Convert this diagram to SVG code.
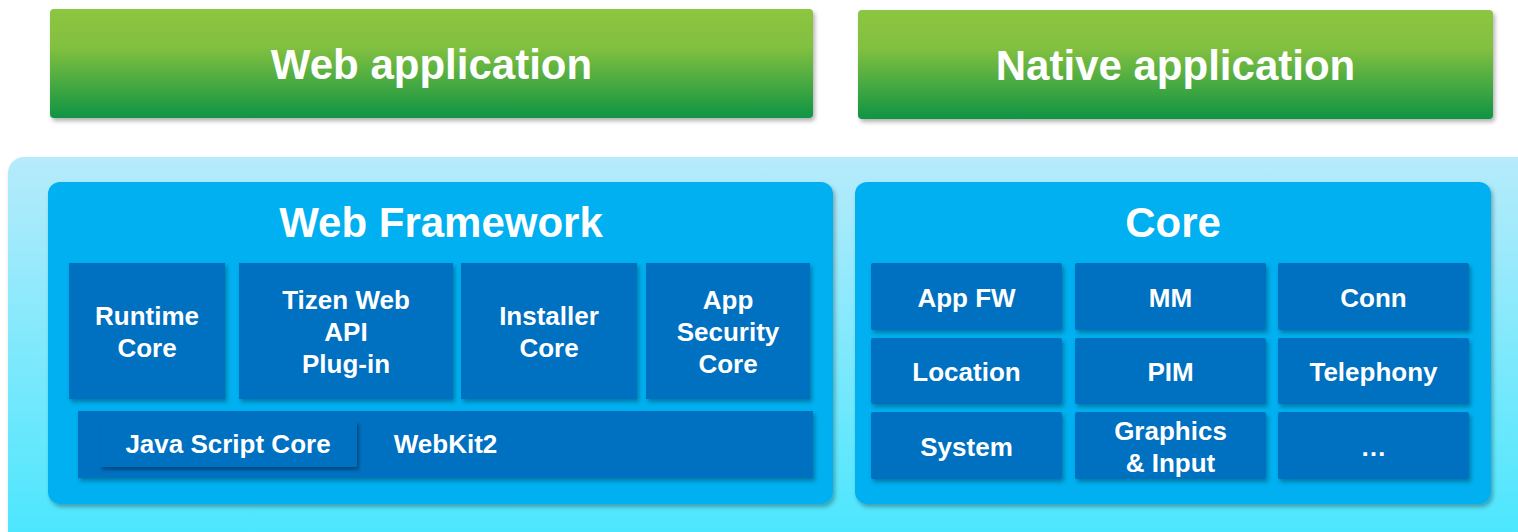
<svg xmlns="http://www.w3.org/2000/svg" width="1518" height="532" viewBox="0 0 1518 532">
  <defs>
    <linearGradient id="green" x1="0" y1="0" x2="0" y2="1">
      <stop offset="0" stop-color="#8dc63f"/>
      <stop offset="0.35" stop-color="#82c040"/>
      <stop offset="1" stop-color="#0f9444"/>
    </linearGradient>
    <linearGradient id="sky" x1="0" y1="0" x2="0" y2="1">
      <stop offset="0" stop-color="#b6ebfb"/>
      <stop offset="1" stop-color="#45e6fe"/>
    </linearGradient>
    <filter id="sh" x="-10%" y="-10%" width="130%" height="140%">
      <feDropShadow dx="2" dy="3" stdDeviation="2" flood-color="#000" flood-opacity="0.3"/>
    </filter>
    <filter id="shDark" x="-10%" y="-20%" width="130%" height="160%">
      <feDropShadow dx="2" dy="3" stdDeviation="1.5" flood-color="#00305a" flood-opacity="0.6"/>
    </filter>
  </defs>
  <style>
    .app { fill: url(#green); filter: url(#sh); }
    .frame { fill: #00b0f0; filter: url(#sh); }
    .tile { fill: #0070c0; filter: url(#sh); }
    .big { font-family: "Liberation Sans", Arial, sans-serif; font-weight: bold; font-size: 42px; fill: #ffffff; text-anchor: middle; }
    .lbl { font-family: "Liberation Sans", Arial, sans-serif; font-weight: bold; font-size: 26px; fill: #ffffff; text-anchor: middle; }
  </style>

  <rect width="1518" height="532" fill="#ffffff"/>

  <g id="web-application">
    <rect class="app" x="50" y="9" width="763" height="109" rx="4"/>
    <text class="big" x="431.5" y="79">Web application</text>
  </g>
  <g id="native-application">
    <rect class="app" x="858" y="10" width="635" height="109" rx="4"/>
    <text class="big" x="1175.5" y="80">Native application</text>
  </g>

  <g id="platform">
    <rect x="8" y="157" width="1540" height="400" rx="16" fill="url(#sky)" filter="url(#sh)"/>
  </g>

  <g id="web-framework">
    <rect class="frame" x="48" y="182" width="785" height="322" rx="12"/>
    <text class="big" x="441" y="237">Web Framework</text>
  </g>
  <g id="runtime-core">
    <rect class="tile" x="69" y="263" width="156" height="136"/>
    <text class="lbl" x="147" y="325">Runtime</text>
    <text class="lbl" x="147" y="357">Core</text>
  </g>
  <g id="tizen-web-api">
    <rect class="tile" x="239" y="263" width="214" height="136"/>
    <text class="lbl" x="346" y="309">Tizen Web</text>
    <text class="lbl" x="346" y="341">API</text>
    <text class="lbl" x="346" y="373">Plug-in</text>
  </g>
  <g id="installer-core">
    <rect class="tile" x="461" y="263" width="176" height="136"/>
    <text class="lbl" x="549" y="325">Installer</text>
    <text class="lbl" x="549" y="357">Core</text>
  </g>
  <g id="app-security-core">
    <rect class="tile" x="646" y="263" width="164" height="136"/>
    <text class="lbl" x="728" y="309">App</text>
    <text class="lbl" x="728" y="341">Security</text>
    <text class="lbl" x="728" y="373">Core</text>
  </g>
  <g id="webkit2">
    <rect class="tile" x="78" y="411" width="735" height="67"/>
    <text class="lbl" x="445.5" y="453">WebKit2</text>
  </g>
  <g id="java-script-core">
    <rect x="100" y="421" width="257" height="46" fill="#0070c0" filter="url(#shDark)"/>
    <text class="lbl" x="228" y="453">Java Script Core</text>
  </g>

  <g id="core">
    <rect class="frame" x="855" y="182" width="636" height="322" rx="12"/>
    <text class="big" x="1173" y="237">Core</text>
  </g>
  <g id="app-fw">
    <rect class="tile" x="871" y="263" width="191" height="67" rx="2"/>
    <text class="lbl" x="966.5" y="307">App FW</text>
  </g>
  <g id="mm">
    <rect class="tile" x="1075" y="263" width="191" height="67" rx="2"/>
    <text class="lbl" x="1170.5" y="307">MM</text>
  </g>
  <g id="conn">
    <rect class="tile" x="1278" y="263" width="191" height="67" rx="2"/>
    <text class="lbl" x="1373.5" y="307">Conn</text>
  </g>
  <g id="location">
    <rect class="tile" x="871" y="338" width="191" height="66" rx="2"/>
    <text class="lbl" x="966.5" y="381">Location</text>
  </g>
  <g id="pim">
    <rect class="tile" x="1075" y="338" width="191" height="66" rx="2"/>
    <text class="lbl" x="1170.5" y="381">PIM</text>
  </g>
  <g id="telephony">
    <rect class="tile" x="1278" y="338" width="191" height="66" rx="2"/>
    <text class="lbl" x="1373.5" y="381">Telephony</text>
  </g>
  <g id="system">
    <rect class="tile" x="871" y="412" width="191" height="67" rx="2"/>
    <text class="lbl" x="966.5" y="456">System</text>
  </g>
  <g id="graphics-input">
    <rect class="tile" x="1075" y="412" width="191" height="67" rx="2"/>
    <text class="lbl" x="1170.5" y="440">Graphics</text>
    <text class="lbl" x="1170.5" y="472">&amp; Input</text>
  </g>
  <g id="more">
    <rect class="tile" x="1278" y="412" width="191" height="67" rx="2"/>
    <text class="lbl" x="1373.5" y="456">…</text>
  </g>

  <g id="connectors"/>
</svg>
